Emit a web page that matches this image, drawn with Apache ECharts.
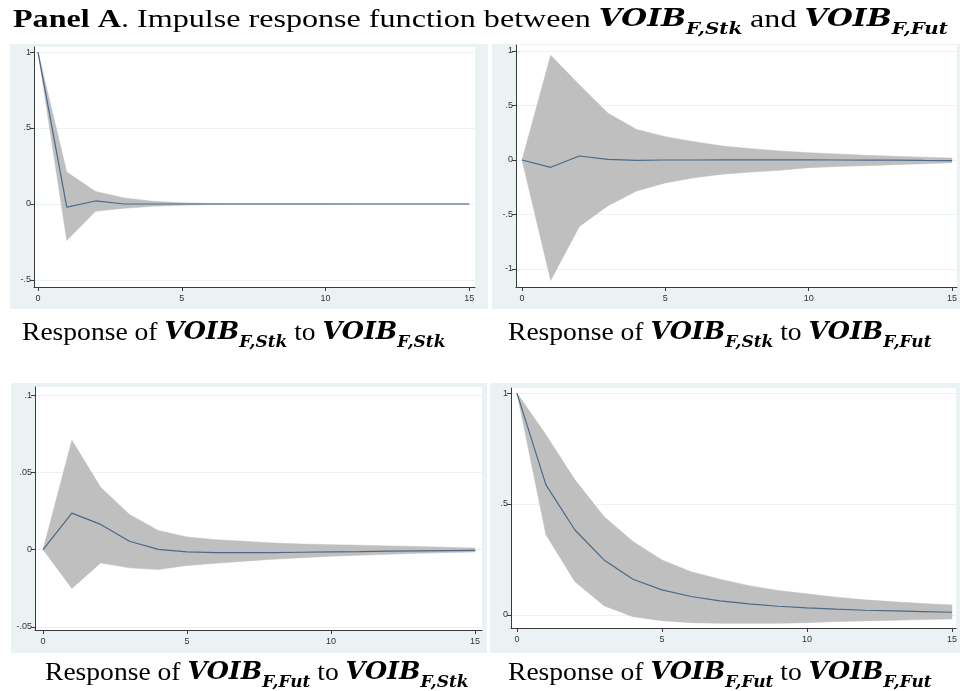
<!DOCTYPE html>
<html lang="en">
<head>
    <meta charset="UTF-8">
    <title>Impulse response function</title>
    <script src="https://cdn.jsdelivr.net/npm/echarts@6.0.0/dist/echarts.min.js"></script>
    <style>body{margin:0;background:#fff;}</style>
</head>
<body>
    <div id="chart" style="width: 960px; height: 691px;"></div>

    <script>
        // horizon (steps)
        const horizon = [0, 1, 2, 3, 4, 5, 6, 7, 8, 9, 10, 11, 12, 13, 14, 15];
        const xTicks = [0, 5, 10, 15];

        // response of VOIB_F,Stk to VOIB_F,Stk
        const p1Irf = [1, -0.02, 0.02, 0.0, 0, 0, 0, 0, 0, 0, 0, 0, 0, 0, 0, 0];
        const p1Hi  = [1, 0.21, 0.083, 0.04, 0.018, 0.008, 0.004, 0.002, 0.001, 0.001, 0.001, 0, 0, 0, 0, 0];
        const p1Lo  = [1, -0.24, -0.048, -0.028, -0.015, -0.008, -0.004, -0.002, -0.001, -0.001, -0.001, 0, 0, 0, 0, 0];
        const p1Ticks = [-0.5, 0, 0.5, 1];

        // response of VOIB_F,Stk to VOIB_F,Fut
        const p2Irf = [0, -0.067, 0.037, 0.006, -0.003, 0, 0, 0.001, 0.001, 0.001, 0.001, 0, -0.001, -0.002, -0.004, -0.005];
        const p2Hi  = [0, 0.96, 0.69, 0.43, 0.28, 0.214, 0.168, 0.128, 0.104, 0.083, 0.067, 0.055, 0.043, 0.034, 0.025, 0.018];
        const p2Lo  = [0, -1.105, -0.61, -0.42, -0.284, -0.21, -0.162, -0.13, -0.11, -0.095, -0.07, -0.06, -0.052, -0.043, -0.034, -0.025];
        const p2Ticks = [-1, -0.5, 0, 0.5, 1];

        // response of VOIB_F,Fut to VOIB_F,Stk
        const p3Irf = [0, 0.0236, 0.0163, 0.0054, 0.0002, -0.0015, -0.002, -0.002, -0.0019, -0.0017, -0.0015, -0.0013, -0.001, -0.0008, -0.0006, -0.0005];
        const p3Hi  = [0, 0.0708, 0.0403, 0.0227, 0.0124, 0.0082, 0.0064, 0.0054, 0.0043, 0.0036, 0.0032, 0.0028, 0.0024, 0.002, 0.0015, 0.001];
        const p3Lo  = [0, -0.0251, -0.0086, -0.0118, -0.0129, -0.0103, -0.0088, -0.0075, -0.0062, -0.0052, -0.0043, -0.0036, -0.003, -0.0024, -0.0019, -0.0015];
        const p3Ticks = [-0.05, 0, 0.05, 0.1];

        // response of VOIB_F,Fut to VOIB_F,Fut
        const p4Irf = [1, 0.586, 0.383, 0.248, 0.161, 0.113, 0.083, 0.063, 0.05, 0.039, 0.032, 0.026, 0.021, 0.018, 0.015, 0.012];
        const p4Hi  = [1, 0.812, 0.609, 0.444, 0.331, 0.248, 0.195, 0.161, 0.132, 0.11, 0.095, 0.08, 0.068, 0.059, 0.051, 0.045];
        const p4Lo  = [1, 0.361, 0.15, 0.041, -0.008, -0.026, -0.035, -0.038, -0.038, -0.038, -0.035, -0.03, -0.027, -0.024, -0.021, -0.018];
        const p4Ticks = [0, 0.5, 1];

        const bandColor = '#bfbfbf';
        const lineColor = '#4a6a8a';
        const regionColor = '#eaf2f3';

        let chart = echarts.init(document.getElementById('chart'));

        // stata style tick labels: ".5", "-.05"
        function stataFmt(v) {
            let s = String(+v.toFixed(4));
            return s.replace(/^(-?)0\./, '$1.');
        }

        let panels = [
            { irf: p1Irf, hi: p1Hi, lo: p1Lo, yTicks: p1Ticks, yMin: -0.546, yMax: 1.033, xMin: -0.14, xMax: 15.2,
              grid: { left: 34, top: 47, width: 441, height: 240 } },
            { irf: p2Irf, hi: p2Hi, lo: p2Lo, yTicks: p2Ticks, yMin: -1.165, yMax: 1.055, xMin: -0.21, xMax: 15.17,
              grid: { left: 516, top: 45, width: 444, height: 242 } },
            { irf: p3Irf, hi: p3Hi, lo: p3Lo, yTicks: p3Ticks, yMin: -0.052, yMax: 0.1052, xMin: -0.28, xMax: 15.24,
              grid: { left: 35, top: 387, width: 447, height: 243 } },
            { irf: p4Irf, hi: p4Hi, lo: p4Lo, yTicks: p4Ticks, yMin: -0.059, yMax: 1.023, xMin: -0.205, xMax: 15.14,
              grid: { left: 511, top: 388, width: 449, height: 240 } }
        ];

        let grids = [], xAxes = [], yAxes = [], series = [];
        panels.forEach(function (p, i) {
            grids.push(Object.assign({ show: true, backgroundColor: '#fff', borderWidth: 0 }, p.grid));
            xAxes.push({
                type: 'value', gridIndex: i, min: p.xMin, max: p.xMax,
                axisLine: { onZero: false, lineStyle: { color: '#3a3a3a', width: 1 } },
                axisTick: { show: true, length: 4, customValues: xTicks, lineStyle: { color: '#3a3a3a' } },
                axisLabel: { customValues: xTicks, fontSize: 9, color: '#333', margin: 7, fontFamily: 'Liberation Sans', formatter: stataFmt },
                splitLine: { show: false }
            });
            yAxes.push({
                type: 'value', gridIndex: i, min: p.yMin, max: p.yMax,
                axisLine: { show: true, onZero: false, lineStyle: { color: '#3a3a3a', width: 1 } },
                axisTick: { show: true, length: 4, customValues: p.yTicks, lineStyle: { color: '#3a3a3a' } },
                axisLabel: { customValues: p.yTicks, fontSize: 9, color: '#333', margin: 3, fontFamily: 'Liberation Sans', formatter: stataFmt },
                splitLine: { show: true, lineStyle: { color: '#eaf2f3', width: 1 } }
            });
            // confidence band: one polygon through the upper bounds and back along the lower bounds
            series.push({
                type: 'custom', xAxisIndex: i, yAxisIndex: i, silent: true, z: 2,
                data: horizon.map((t, k) => [t, p.lo[k], p.hi[k]]),
                renderItem: function (params, api) {
                    if (params.dataIndex !== 0) return null;
                    let upper = horizon.map((t, k) => api.coord([t, p.hi[k]]));
                    let lower = horizon.map((t, k) => api.coord([t, p.lo[k]])).reverse();
                    return {
                        type: 'polygon',
                        shape: { points: upper.concat(lower) },
                        style: { fill: bandColor, stroke: bandColor, lineWidth: 0.5 }
                    };
                }
            });
            series.push({
                type: 'line', xAxisIndex: i, yAxisIndex: i, symbol: 'none', silent: true,
                lineStyle: { color: lineColor, width: 1.2 }, z: 5,
                data: horizon.map((t, k) => [t, p.irf[k]])
            });
        });

        let rich = {
            r: { fontFamily: 'Liberation Serif', fontSize: 26, lineHeight: 36, color: '#111' },
            b: { fontFamily: 'Liberation Serif', fontSize: 26, fontWeight: 'bold', lineHeight: 36, color: '#111' },
            v: { fontFamily: 'DejaVu Serif', fontStyle: 'italic', fontWeight: 'bold', fontSize: 24, lineHeight: 36, color: '#111' },
            s: { fontFamily: 'DejaVu Serif', fontStyle: 'italic', fontWeight: 'bold', fontSize: 16, lineHeight: 16, verticalAlign: 'bottom', color: '#111' }
        };
        function caption(x, y, text, sx) {
            return { type: 'text', x: x, y: y, scaleX: sx, z: 10, silent: true, style: { text: text, rich: rich } };
        }
        function region(x, y, w, h) {
            return { type: 'rect', shape: { x: x, y: y, width: w, height: h }, z: -10, silent: true, style: { fill: regionColor } };
        }

        let option = {
            animation: false,
            backgroundColor: '#fff',
            grid: grids,
            xAxis: xAxes,
            yAxis: yAxes,
            series: series,
            graphic: [
                region(10, 44, 478, 265),
                region(492, 44, 468, 265),
                region(11, 383, 476, 270),
                region(490, 383, 470, 270),
                caption(13, 2, '{b|Panel A}{r|. Impulse response function between }{v|VOIB}{s|F,Stk}{r| and }{v|VOIB}{s|F,Fut}', 1.235),
                caption(22, 315, '{r|Response of }{v|VOIB}{s|F,Stk}{r| to }{v|VOIB}{s|F,Stk}', 1.06),
                caption(508, 315, '{r|Response of }{v|VOIB}{s|F,Stk}{r| to }{v|VOIB}{s|F,Fut}', 1.06),
                caption(45, 655, '{r|Response of }{v|VOIB}{s|F,Fut}{r| to }{v|VOIB}{s|F,Stk}', 1.06),
                caption(508, 655, '{r|Response of }{v|VOIB}{s|F,Fut}{r| to }{v|VOIB}{s|F,Fut}', 1.06)
            ]
        };
        chart.setOption(option);
    </script>
</body>
</html>
